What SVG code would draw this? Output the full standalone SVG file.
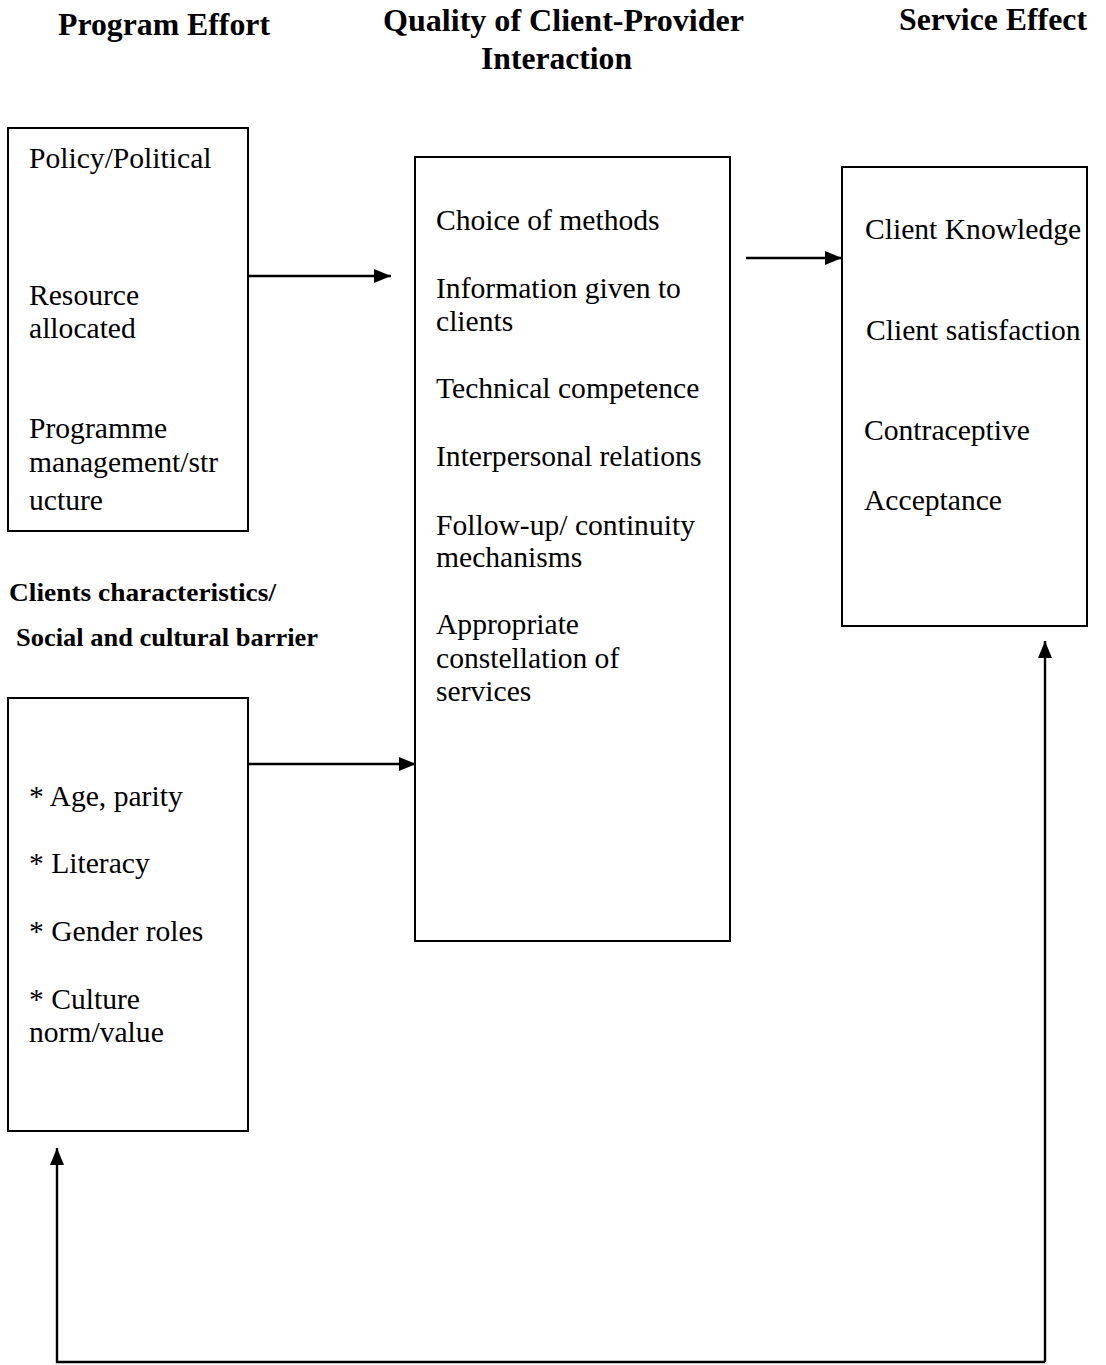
<svg xmlns="http://www.w3.org/2000/svg" width="1106" height="1365" viewBox="0 0 1106 1365">
<defs>
<marker id="ah" markerWidth="17" markerHeight="14" refX="17" refY="7" orient="auto" markerUnits="userSpaceOnUse">
<path d="M0,0 L17,7 L0,14 Z" fill="#000"/>
</marker>
<style>
.box{fill:#fff;stroke:#000;stroke-width:2}
.t{font-family:"Liberation Serif","Times New Roman",serif;font-size:29.6px;fill:#000}
.h{font-family:"Liberation Serif","Times New Roman",serif;font-size:32px;font-weight:bold;fill:#000}
.s{font-family:"Liberation Serif","Times New Roman",serif;font-size:26px;font-weight:bold;fill:#000}
.c{fill:none;stroke:#000;stroke-width:2.4}
</style>
</defs>
<rect width="1106" height="1365" fill="#fff"/>
<g id="headings">
<text class="h" x="58" y="35" textLength="212" lengthAdjust="spacingAndGlyphs">Program Effort</text>
<text class="h" x="383" y="31" textLength="361" lengthAdjust="spacingAndGlyphs">Quality of Client-Provider</text>
<text class="h" x="481" y="69" textLength="151" lengthAdjust="spacingAndGlyphs">Interaction</text>
<text class="h" x="899" y="30" textLength="188" lengthAdjust="spacingAndGlyphs">Service Effect</text>
<text class="s" x="9" y="601" textLength="267" lengthAdjust="spacingAndGlyphs">Clients characteristics/</text>
<text class="s" x="16" y="646" textLength="302" lengthAdjust="spacingAndGlyphs">Social and cultural barrier</text>
</g>
<g id="program-effort">
<rect class="box" x="8" y="128" width="240" height="403"/>
<text class="t" x="29" y="168">Policy/Political</text>
<text class="t" x="29" y="305">Resource</text>
<text class="t" x="29" y="338">allocated</text>
<text class="t" x="29" y="438">Programme</text>
<text class="t" x="29" y="472">management/str</text>
<text class="t" x="29" y="510">ucture</text>
</g>
<g id="quality">
<rect class="box" x="415" y="157" width="315" height="784"/>
<text class="t" x="436" y="230">Choice of methods</text>
<text class="t" x="436" y="298">Information given to</text>
<text class="t" x="436" y="331">clients</text>
<text class="t" x="436" y="398">Technical competence</text>
<text class="t" x="436" y="466">Interpersonal relations</text>
<text class="t" x="436" y="535">Follow-up/ continuity</text>
<text class="t" x="436" y="567">mechanisms</text>
<text class="t" x="436" y="634">Appropriate</text>
<text class="t" x="436" y="668">constellation of</text>
<text class="t" x="436" y="701">services</text>
</g>
<g id="service-effect">
<rect class="box" x="842" y="167" width="245" height="459"/>
<text class="t" x="865" y="239">Client Knowledge</text>
<text class="t" x="866" y="340">Client satisfaction</text>
<text class="t" x="864" y="440">Contraceptive</text>
<text class="t" x="864" y="510">Acceptance</text>
</g>
<g id="client-characteristics">
<rect class="box" x="8" y="698" width="240" height="433"/>
<text class="t" x="29" y="806">* Age, parity</text>
<text class="t" x="29" y="873">* Literacy</text>
<text class="t" x="29" y="941">* Gender roles</text>
<text class="t" x="29" y="1009">* Culture</text>
<text class="t" x="29" y="1042">norm/value</text>
</g>
<g id="connectors">
<line class="c" x1="248" y1="276" x2="391" y2="276" marker-end="url(#ah)"/>
<line class="c" x1="746" y1="258" x2="842" y2="258" marker-end="url(#ah)"/>
<line class="c" x1="248" y1="764" x2="416" y2="764" marker-end="url(#ah)"/>
<path class="c" d="M1045,1362 L1045,641" marker-end="url(#ah)"/>
<path class="c" d="M1045,1362 L57,1362 L57,1148" marker-end="url(#ah)"/>
</g>
</svg>
